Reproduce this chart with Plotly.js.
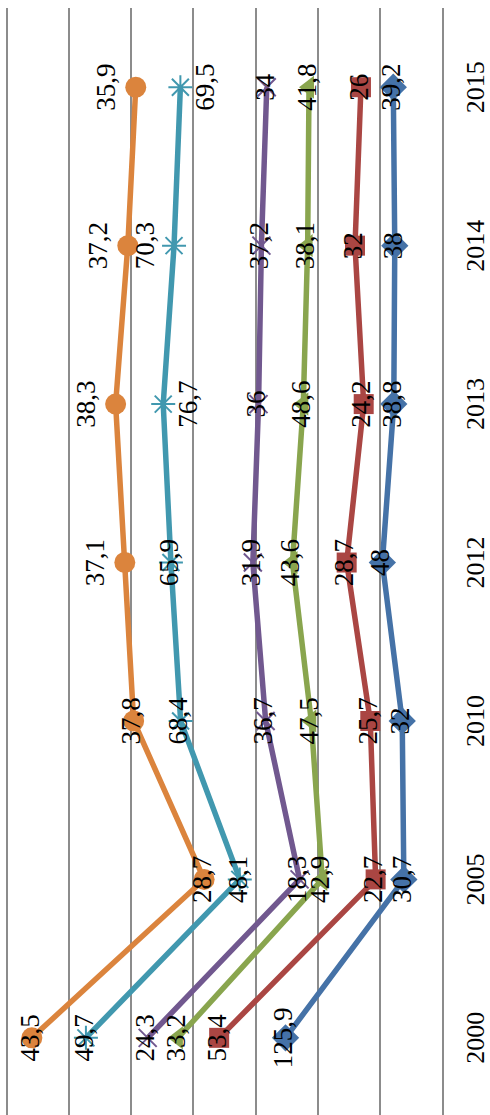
<!DOCTYPE html>
<html><head><meta charset="utf-8">
<script src="https://cdn.plot.ly/plotly-3.0.1.min.js"></script>
<style>
html,body{margin:0;padding:0;background:#fff;overflow:hidden;width:490px;height:1115px}
#chart{position:absolute;left:0;top:0;width:1115px;height:490px;transform-origin:0 0;transform:translate(0,1115px) rotate(-90deg);}
</style></head>
<body><div id="chart"></div>
<script>
// Categories (years)
const years = ['2000', '2005', '2010', '2012', '2013', '2014', '2015'];
// Series values (stacked bottom to top)
const series1 = [125.9, 30.7, 32, 48, 38.8, 38, 39.2];
const series2 = [53.4, 22.7, 25.7, 28.7, 24.2, 32, 26];
const series3 = [33.2, 42.9, 47.5, 43.6, 48.6, 38.1, 41.8];
const series4 = [24.3, 18.3, 36.7, 31.9, 36, 37.2, 34];
const series5 = [49.7, 48.1, 68.4, 65.9, 76.7, 70.3, 69.5];
const series6 = [43.5, 28.7, 37.8, 37.1, 38.3, 37.2, 35.9];
const seriesNames = ['Ряд 1', 'Ряд 2', 'Ряд 3', 'Ряд 4', 'Ряд 5', 'Ряд 6'];

const allSeries = [series1, series2, series3, series4, series5, series6];

// styles
const colors = ['#4572A7', '#AA4643', '#89A54E', '#71588F', '#4198AF', '#DB843D'];
const symbols = ['diamond', 'square', 'triangle-up', 'x-thin-open', 'asterisk-open', 'circle'];
const sizes = [21, 20, 20, 18, 20, 21];
const MC = 'middle center', TC = 'top center', BC = 'bottom center';
const labelPos = [
  [MC, MC, MC, MC, MC, MC, MC],
  [MC, MC, MC, MC, MC, MC, MC],
  [MC, MC, MC, MC, MC, MC, MC],
  [MC, MC, MC, MC, MC, MC, MC],
  [MC, MC, MC, MC, BC, TC, BC],
  [MC, MC, MC, TC, TC, TC, TC]
];

const fmt = v => String(v).replace('.', ',');
const cum = years.map(() => 0);
const lineTraces = [], textTraces = [];
allSeries.forEach((vals, i) => {
  const y = vals.map((v, j) => (cum[j] += v));
  const thin = symbols[i].indexOf('open') >= 0;
  lineTraces.push({
    type: 'scatter', mode: 'lines+markers', name: seriesNames[i],
    x: years, y: y, cliponaxis: false,
    line: {color: colors[i], width: 5.5},
    marker: {symbol: symbols[i], size: sizes[i], color: colors[i],
             line: {color: colors[i], width: thin ? 2 : 0}}
  });
  textTraces.push({
    type: 'scatter', mode: 'markers+text', name: seriesNames[i],
    x: years, y: y, cliponaxis: false, hoverinfo: 'skip',
    text: vals.map(fmt), textposition: labelPos[i],
    textfont: {family: 'Liberation Serif, Times New Roman, serif', size: 27, color: '#000'},
    marker: {size: sizes[i], color: 'rgba(0,0,0,0)'}
  });
});

const layout = {
  width: 1115, height: 490,
  margin: {l: 0, r: 8, t: 4, b: 48},
  paper_bgcolor: '#fff', plot_bgcolor: '#fff',
  showlegend: false,
  xaxis: {
    type: 'category', range: [-0.487, 6.5],
    showgrid: false, zeroline: false,
    showline: true, linecolor: '#8c8c8c', linewidth: 2,
    ticks: '', ticklabelstandoff: 9,
    tickfont: {family: 'Liberation Serif, Times New Roman, serif', size: 26, color: '#000'}
  },
  yaxis: {
    range: [0, 352.41], dtick: 50, tick0: 0,
    showgrid: true, gridcolor: '#8c8c8c', gridwidth: 2,
    zeroline: false, showticklabels: false, ticks: ''
  }
};

Plotly.newPlot('chart', lineTraces.concat(textTraces), layout, {staticPlot: true, displayModeBar: false});
</script>
</body></html>
